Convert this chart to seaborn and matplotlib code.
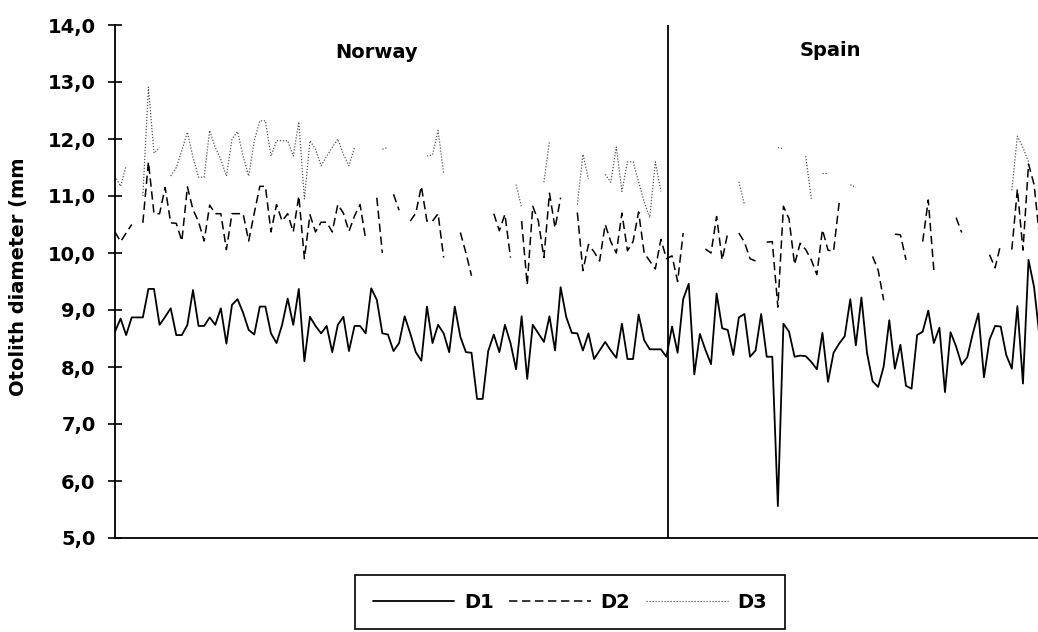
import numpy as np
import pandas as pd
import matplotlib
matplotlib.use("Agg")
import matplotlib.pyplot as plt
from matplotlib.lines import Line2D
import seaborn as sns

N = np.nan

# ---------------- data ----------------
series_names = ["D1", "D2", "D3"]
region_names = ["Norway", "Spain"]
n_norway = 100

d1 = [8.62, 8.85, 8.56, 8.87, 8.87, 8.87, 9.37, 9.37, 8.74, 8.88, 9.03, 8.56, 8.56, 8.74, 9.35, 8.72, 8.72, 8.87, 8.74, 9.03, 8.41, 9.09, 9.19, 8.95, 8.65,
      8.57, 9.06, 9.06, 8.59, 8.42, 8.74, 9.2, 8.74, 9.37, 8.1, 8.88, 8.72, 8.59, 8.72, 8.26, 8.74, 8.88, 8.28, 8.72, 8.72, 8.59, 9.38, 9.18, 8.59,
      8.57, 8.28, 8.42, 8.89, 8.59, 8.26, 8.11, 9.06, 8.42, 8.74, 8.59, 8.26, 9.06, 8.53, 8.26, 8.25, 7.44, 7.44, 8.28, 8.57, 8.26, 8.74, 8.42, 7.96, 8.89,
      7.79, 8.74, 8.59, 8.44, 8.89, 8.29, 9.40, 8.88, 8.6, 8.59, 8.29, 8.59, 8.14, 8.29, 8.44, 8.29, 8.16, 8.76, 8.14, 8.14, 8.92, 8.47, 8.31, 8.31,
      8.31, 8.18,
      8.71, 8.25, 9.19, 9.46, 7.87, 8.58, 8.3, 8.05, 9.29, 8.68, 8.65, 8.21, 8.87, 8.93, 8.18, 8.29, 8.93, 8.18, 8.18, 5.56, 8.76,
      8.62, 8.18, 8.2, 8.19, 8.09, 7.96, 8.6, 7.74, 8.25, 8.41, 8.54, 9.19, 8.38, 9.22, 8.25, 7.75, 7.65, 8.01, 8.82, 7.97, 8.39, 7.67, 7.62,
      8.56, 8.62, 8.99, 8.42, 8.69, 7.56, 8.61, 8.36, 8.04, 8.17, 8.59, 8.94, 7.82, 8.48, 8.72, 8.71, 8.21, 7.97, 9.07, 7.71, 9.88, 9.4, 8.5]

d2 = [10.37, 10.2, 10.35, 10.5, N, 10.53, 11.6, 10.69, 10.69, 11.15, 10.53, 10.52, 10.21, 11.16, 10.76, 10.55, 10.21, 10.84, 10.69, 10.69, 10.06, 10.69, 10.69, 10.69, 10.21,
      10.7, 11.17, 11.17, 10.37, 10.85, 10.56, 10.69, 10.37, 11.0, 9.9, 10.67, 10.37, 10.54, 10.54, 10.37, 10.85, 10.7, 10.38, 10.65, 10.85, 10.24, N, 10.97, 10.0,
      N, 11.03, 10.75, N, 10.56, 10.7, 11.17, 10.56, 10.56, 10.69, 9.92, N, N, 10.36, 10.0, 9.6, N, N, N, 10.69, 10.39, 10.68, 9.92, N, 10.56,
      9.44, 10.82, 10.56, 9.92, 11.05, 10.44, 10.97, N, N, 10.71, 9.69, 10.15, 10.02, 9.86, 10.5, 10.2, 10.0, 10.7, 10.04, 10.2, 10.72, 10.0, 9.86, 9.72,
      10.24, 9.9,
      9.95, 9.5, 10.35, N, N, N, 10.07, 10.0, 10.64, 9.88, 10.35, N, 10.35, 10.19, 9.9, 9.86, N, 10.19, 10.2, 9.05, 10.82,
      10.6, 9.8, 10.17, 10.06, 9.88, 9.62, 10.41, 10.05, 10.03, 10.88, N, N, N, N, N, 9.94, 9.7, 9.17, N, 10.33, 10.32, 9.88, N,
      N, 10.2, 10.93, 9.7, N, N, N, 10.62, 10.36, N, N, N, N, 9.97, 9.74, 10.15, N, 10.06, 11.12, 10.05, 11.56, 11.2, 10.25]

d3 = [11.35, 11.17, 11.53, N, N, 11.0, 12.91, 11.75, 11.85, N, 11.35, 11.5, 11.8, 12.12, 11.68, 11.33, 11.33, 12.15, 11.85, 11.64, 11.35, 12.0, 12.13, 11.7, 11.35,
      11.97, 12.32, 12.32, 11.7, 11.97, 11.97, 11.97, 11.7, 12.3, 10.95, 11.97, 11.82, 11.53, 11.7, 11.85, 12.0, 11.73, 11.53, 11.85, N, N, N, N, 11.82,
      11.85, N, N, N, N, N, N, 11.7, 11.72, 12.15, 11.4, N, N, N, N, N, N, N, N, N, N, N, N, 11.2,
      10.8, N, N, N, 11.24, 11.96, N, N, N, N, 10.85, 11.73, 11.3, N, N, 11.38, 11.24, 11.86, 11.08, 11.6, 11.6, 11.25, 10.9, 10.62,
      11.6, 11.08,
      N, N, N, N, N, N, N, N, N, N, N, N, N, 11.25, 10.85, N, N, N, N, N, 11.85,
      11.83, N, N, N, 11.7, 10.95, N, 11.4, 11.4, N, N, N, 11.2, 11.15, N, N, N, N, N, N, N, N, N,
      N, N, N, N, N, N, N, N, N, N, N, N, N, N, N, N, N, N, 11.1, 12.05, 11.85, 11.6, N]

ytick_values = [5, 6, 7, 8, 9, 10, 11, 12, 13, 14]
ytick_labels = ["5,0", "6,0", "7,0", "8,0", "9,0", "10,0", "11,0", "12,0", "13,0", "14,0"]
ylabel_text = "Otolith diameter (mm"

# ---------------- long-form table with contiguous segments ----------------
rows = []
for name, vals in zip(series_names, [d1, d2, d3]):
    seg = 0
    prev_nan = True
    for i, v in enumerate(vals):
        if np.isnan(v):
            prev_nan = True
            continue
        if prev_nan:
            seg += 1
            prev_nan = False
        rows.append({"sample": i, "diameter": v, "series": name, "seg": f"{name}_{seg}"})
df = pd.DataFrame(rows)

# ---------------- styling ----------------
sns.set_theme(style="white")
plt.rcParams["font.family"] = ["DejaVu Sans"]
plt.rcParams["font.weight"] = "bold"
plt.rcParams["text.color"] = "black"
plt.rcParams["axes.labelcolor"] = "black"
plt.rcParams["xtick.color"] = "black"
plt.rcParams["ytick.color"] = "black"

fig = plt.figure(figsize=(10.38, 6.32), dpi=100)
ax = fig.add_axes([115 / 1038, 94 / 632, 923 / 1038, 513 / 632])

styles = {
    "D1": dict(color="black", lw=1.3, dashes=None),
    "D2": dict(color="black", lw=1.1, dashes=(5.5, 3.0)),
    "D3": dict(color="#555555", lw=0.9, dashes=(1.0, 1.4)),
}

for name in series_names:
    st = styles[name]
    sub = df[df["series"] == name]
    kw = dict(data=sub, x="sample", y="diameter", units="seg", estimator=None,
              color=st["color"], linewidth=st["lw"], ax=ax, legend=False, sort=False)
    sns.lineplot(**kw)
    if st["dashes"] is not None:
        for ln in ax.lines[-sub["seg"].nunique():]:
            ln.set_dashes(st["dashes"])

x_right = 165.7
ax.set_xlim(0, x_right)
ax.set_ylim(5, 14)
ax.axvline(n_norway - 0.7, color="black", lw=1.3)

ax.set_xticks([])
ax.set_xlabel("")
ax.set_yticks(ytick_values)
ax.set_yticklabels(ytick_labels, fontsize=14, fontweight="bold", color="black")
ax.tick_params(axis="y", direction="inout", length=10, width=1.2, pad=9, left=True, colors="black")
ax.set_ylabel(ylabel_text, fontsize=14, fontweight="bold", color="black")
ax.yaxis.set_label_coords(-0.094, 0.51)

for side in ["top", "right"]:
    ax.spines[side].set_visible(False)
for side in ["left", "bottom"]:
    ax.spines[side].set_visible(True)
    ax.spines[side].set_color("black")
    ax.spines[side].set_linewidth(1.3)

ax.text(47, 13.51, region_names[0], ha="center", va="center", fontsize=14, fontweight="bold", color="black")
ax.text(128.4, 13.56, region_names[1], ha="center", va="center", fontsize=14, fontweight="bold", color="black")

handles = [Line2D([], [], color=styles[n]["color"], lw=styles[n]["lw"]) for n in series_names]
for h, n in zip(handles, series_names):
    if styles[n]["dashes"] is not None:
        h.set_dashes(styles[n]["dashes"])
leg = fig.legend(handles, series_names, loc="center", bbox_to_anchor=(0.549, 0.047), ncol=3,
                 frameon=True, fancybox=False, edgecolor="black", framealpha=1,
                 handlelength=4.2, handletextpad=0.5, columnspacing=0.8, borderpad=0.9,
                 prop={"size": 14, "weight": "bold"})
for t in leg.get_texts():
    t.set_color("black")
leg.get_frame().set_linewidth(1.2)

fig.savefig("out.png", dpi=100, facecolor="white")
